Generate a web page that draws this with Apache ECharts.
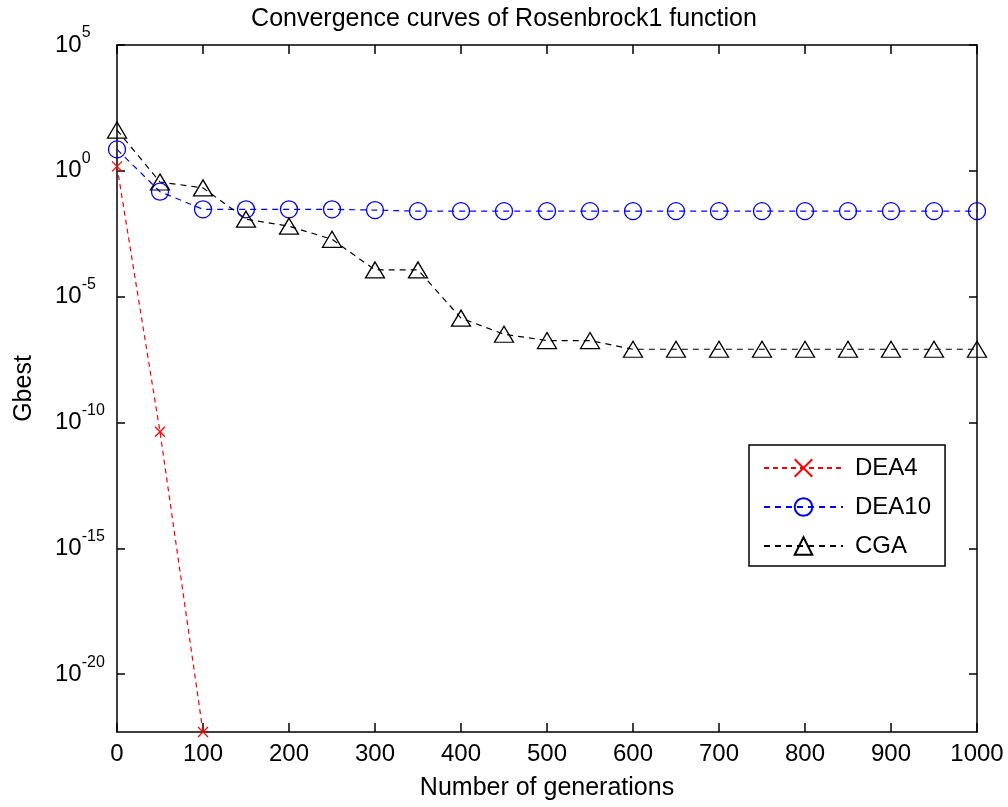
<!DOCTYPE html>
<html>
<head>
<meta charset="utf-8">
<script src="https://cdn.jsdelivr.net/npm/echarts@6/dist/echarts.min.js"></script>
<style>
  html, body { margin: 0; padding: 0; background: #fff; }
  #chart { width: 1008px; height: 807px; }
</style>
</head>
<body>
<div id="chart"></div>
<script>
// Generations at which the best fitness was recorded
const generations = [0, 50, 100, 150, 200, 250, 300, 350, 400, 450, 500,
                     550, 600, 650, 700, 750, 800, 850, 900, 950, 1000];

// DEA4 reaches exactly zero after generation 100, so only the first three values exist on a log scale
const dea4Generations = [0, 50, 100];
const dea4 = [1.5, 4.3e-11, 5.0e-23];

const dea10 = [7.1, 0.148, 0.0295, 0.0295, 0.0295, 0.0295, 0.0275, 0.025, 0.025, 0.025, 0.025,
               0.025, 0.025, 0.025, 0.025, 0.025, 0.025, 0.025, 0.025, 0.025, 0.025];

const cga = [41.7, 0.36, 0.21, 0.012, 0.0063, 0.0019, 1.15e-4, 1.15e-4, 1.4e-6, 3.2e-7, 1.8e-7,
             1.8e-7, 8.1e-8, 8.1e-8, 8.1e-8, 8.1e-8, 8.1e-8, 8.1e-8, 8.1e-8, 8.1e-8, 8.1e-8];

// Decade exponents that carry a tick label on the Gbest axis
const yTickExponents = [-20, -15, -10, -5, 0, 5];

const FONT = 'Liberation Sans, Arial, sans-serif';

// Values are plotted by their base-10 exponent
const toLog = (xs, ys) => xs.map((x, i) => [x, Math.log10(ys[i])]);
const yMin = Math.log10(Math.min(...dea4, ...dea10, ...cga));
const yMax = 5;

const axisLineStyle = { color: '#000', width: 1.5 };

const chart = echarts.init(document.getElementById('chart'), null, { renderer: 'canvas' });

chart.setOption({
  animation: false,
  backgroundColor: '#fff',
  title: {
    text: 'Convergence curves of Rosenbrock1 function',
    left: 'center',
    top: 0,
    padding: [7, 0, 0, 80],
    textStyle: { fontFamily: FONT, fontSize: 25, fontWeight: 'normal', color: '#000' }
  },
  grid: {
    left: 117, right: 31, top: 45, bottom: 75,
    outerBoundsMode: 'none'
  },
  legend: {
    orient: 'vertical',
    left: 749,
    top: 445,
    width: 197,
    padding: [11, 14, 8, 14],
    itemWidth: 79,
    itemHeight: 22,
    itemGap: 15,
    backgroundColor: '#fff',
    borderColor: '#000',
    borderWidth: 1.5,
    borderRadius: 0,
    textStyle: { fontFamily: FONT, fontSize: 24, color: '#000', padding: [0, 0, 0, 7] },
    data: ['DEA4', 'DEA10', 'CGA']
  },
  xAxis: [{
    type: 'value',
    position: 'bottom',
    min: 0, max: 1000, interval: 100,
    name: 'Number of generations',
    nameLocation: 'middle',
    nameGap: 44,
    nameTextStyle: { fontFamily: FONT, fontSize: 25, color: '#000' },
    axisLine: { show: true, onZero: false, lineStyle: axisLineStyle },
    axisTick: { show: true, inside: true, length: 9, lineStyle: { color: '#000', width: 1.5 } },
    axisLabel: { fontFamily: FONT, fontSize: 24, color: '#000', margin: 10, formatter: v => String(v) },
    splitLine: { show: false }
  }, {
    type: 'value',
    position: 'top',
    min: 0, max: 1000, interval: 100,
    axisLine: { show: true, onZero: false, lineStyle: axisLineStyle },
    axisTick: { show: true, inside: true, length: 9, lineStyle: { color: '#000', width: 1.5 } },
    axisLabel: { show: false },
    splitLine: { show: false }
  }],
  yAxis: [{
    type: 'value',
    position: 'left',
    min: yMin, max: yMax,
    name: 'Gbest',
    nameLocation: 'middle',
    nameGap: 80,
    nameTextStyle: { fontFamily: FONT, fontSize: 25, color: '#000' },
    axisLine: { show: true, onZero: false, lineStyle: axisLineStyle },
    axisTick: { show: true, inside: true, length: 8, customValues: yTickExponents,
                lineStyle: { color: '#000', width: 1.5 } },
    axisLabel: {
      customValues: yTickExponents,
      align: 'left',
      margin: 62,
      formatter: v => '{b|10}{e|' + Math.round(v) + '}',
      rich: {
        b: { fontFamily: FONT, fontSize: 24, color: '#000', lineHeight: 40 },
        e: { fontFamily: FONT, fontSize: 16, color: '#000', lineHeight: 16, verticalAlign: 'top' }
      }
    },
    splitLine: { show: false }
  }, {
    type: 'value',
    position: 'right',
    min: yMin, max: yMax,
    axisLine: { show: true, onZero: false, lineStyle: axisLineStyle },
    axisTick: { show: true, inside: true, length: 8, customValues: yTickExponents,
                lineStyle: { color: '#000', width: 1.5 } },
    axisLabel: { show: false },
    splitLine: { show: false }
  }],
  series: [{
    name: 'DEA4',
    type: 'line',
    xAxisIndex: 0, yAxisIndex: 0,
    data: toLog(dea4Generations, dea4),
    symbol: 'path://M0,0L10,10M10,0L0,10',
    symbolSize: 10,
    showAllSymbol: true,
    color: '#ff0000',
    lineStyle: { color: '#ff0000', width: 1.2, type: [5, 4] },
    itemStyle: { color: 'rgba(0,0,0,0)', borderColor: '#ff0000', borderWidth: 1.3 },
    emphasis: { disabled: true }
  }, {
    name: 'DEA10',
    type: 'line',
    xAxisIndex: 0, yAxisIndex: 0,
    data: toLog(generations, dea10),
    symbol: 'circle',
    symbolSize: 17,
    showAllSymbol: true,
    color: '#0000ff',
    lineStyle: { color: '#0000ff', width: 1.2, type: [6, 5] },
    itemStyle: { color: 'rgba(0,0,0,0)', borderColor: '#0000ff', borderWidth: 1.3 },
    emphasis: { disabled: true }
  }, {
    name: 'CGA',
    type: 'line',
    xAxisIndex: 0, yAxisIndex: 0,
    data: toLog(generations, cga),
    symbol: 'triangle',
    symbolSize: [19, 16],
    showAllSymbol: true,
    color: '#000',
    lineStyle: { color: '#000', width: 1.2, type: [6, 5] },
    itemStyle: { color: 'rgba(0,0,0,0)', borderColor: '#000', borderWidth: 1.3 },
    emphasis: { disabled: true }
  }]
});
</script>
</body>
</html>
